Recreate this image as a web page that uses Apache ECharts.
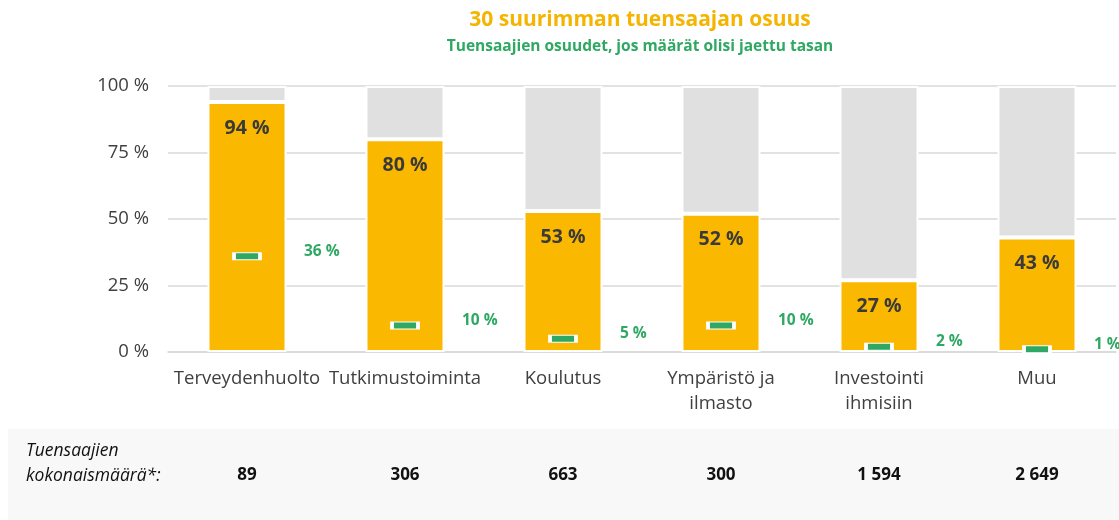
<!DOCTYPE html>
<html>
<head>
<meta charset="utf-8">
<script src="https://cdn.jsdelivr.net/npm/echarts@6/dist/echarts.min.js"></script>
<style>
  html, body { margin: 0; padding: 0; background: #fff; }
  #chart { width: 1119px; height: 520px; }
</style>
</head>
<body>
<div id="chart"></div>
<script>
// data
const categories = ['Terveydenhuolto', 'Tutkimustoiminta', 'Koulutus', 'Ympäristö ja\nilmasto', 'Investointi\nihmisiin', 'Muu'];
const top30Share = [94, 80, 53, 52, 27, 43];
const equalShare = [36, 10, 5, 10, 2, 1];
const totals = ['89', '306', '663', '300', '1 594', '2 649'];
const yTicks = [0, 25, 50, 75, 100];

const rest = top30Share.map((v) => 100 - v);

const FONT = '"Open Sans", sans-serif';
const ORANGE = '#fbb800';
const GREEN = '#2ea862';

const chart = echarts.init(document.getElementById('chart'));
chart.setOption({
  animation: false,
  textStyle: { fontFamily: FONT },
  title: {
    text: '30 suurimman tuensaajan osuus',
    subtext: 'Tuensaajien osuudet, jos määrät olisi jaettu tasan',
    left: 635,
    top: 5,
    textAlign: 'center',
    itemGap: 8,
    textStyle: { fontFamily: FONT, fontSize: 21, fontWeight: 'bold', color: '#f4b400' },
    subtextStyle: { fontFamily: FONT, fontSize: 15.5, fontWeight: 'bold', color: GREEN },
  },
  grid: { left: 168, right: 3, top: 86, bottom: 168 },
  xAxis: [
    {
      type: 'category',
      data: categories,
      axisTick: { show: false },
      axisLine: { lineStyle: { color: '#d9d9d9', width: 1.5 } },
      axisLabel: { color: '#404040', fontSize: 18.5, margin: 14, lineHeight: 25, interval: 0 },
    },
    {
      // totals row in the grey band
      type: 'category',
      data: totals,
      position: 'bottom',
      offset: 112,
      axisTick: { show: false },
      axisLine: { show: false },
      axisLabel: { color: '#111', fontSize: 17, fontWeight: 'bold', margin: 3, interval: 0 },
    },
  ],
  yAxis: {
    type: 'value',
    min: yTicks[0],
    max: yTicks[yTicks.length - 1],
    interval: 25,
    axisLabel: { formatter: '{value} %', color: '#404040', fontSize: 18.5, margin: 19 },
    splitLine: { lineStyle: { color: '#d9d9d9', width: 1.5 } },
  },
  graphic: [
    {
      type: 'rect',
      z: -10,
      shape: { x: 8, y: 429, width: 1111, height: 91 },
      style: { fill: '#f8f8f8' },
    },
    {
      type: 'text',
      left: 26,
      top: 439,
      style: {
        text: 'Tuensaajien\nkokonaismäärä*:',
        font: 'italic 17.5px "Open Sans", sans-serif',
        fill: '#111',
        lineHeight: 25,
      },
    },
  ],
  series: [
    {
      name: '30 suurinta',
      type: 'bar',
      stack: 'share',
      barWidth: 79,
      data: top30Share,
      itemStyle: { color: ORANGE, borderColor: '#fff', borderWidth: 2 },
      label: {
        show: true,
        position: 'insideTop',
        distance: 16,
        formatter: '{c} %',
        fontSize: 19.5,
        fontWeight: 'bold',
        color: '#3a3a3a',
      },
    },
    {
      name: 'muut',
      type: 'bar',
      stack: 'share',
      barWidth: 79,
      data: rest,
      itemStyle: { color: '#e0e0e0', borderColor: '#fff', borderWidth: 2 },
    },
    {
      name: 'tasajako',
      type: 'scatter',
      data: equalShare,
      symbol: 'rect',
      symbolSize: [26, 7],
      z: 5,
      itemStyle: { color: GREEN, borderColor: '#fff', borderWidth: 2, opacity: 1 },
      label: {
        show: true,
        position: 'right',
        distance: 42,
        offset: [0, -5],
        formatter: '{c} %',
        fontSize: 15.5,
        fontWeight: 'bold',
        color: GREEN,
      },
    },
  ],
});
</script>
</body>
</html>
